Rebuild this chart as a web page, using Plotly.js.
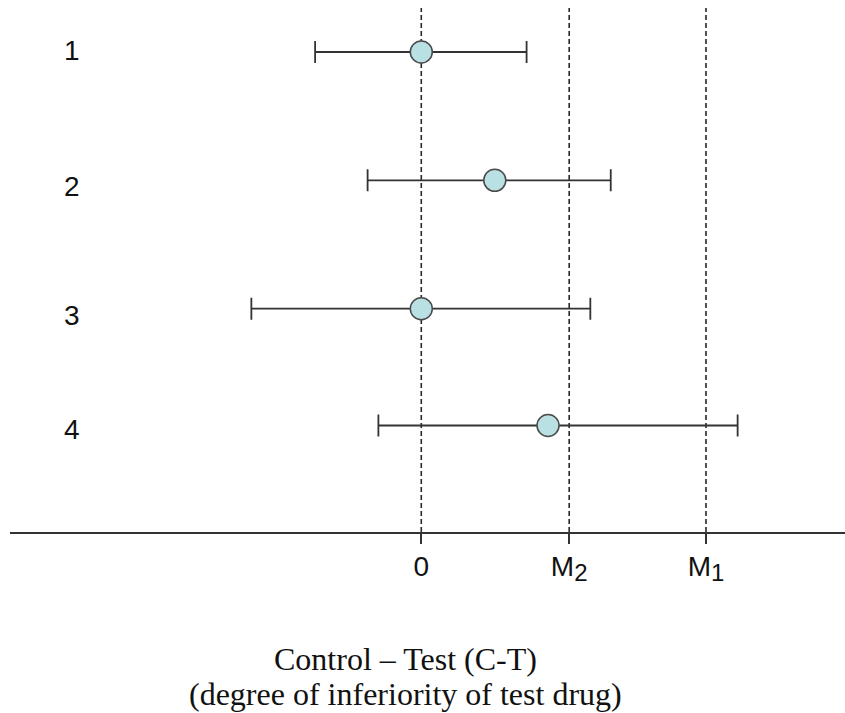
<!DOCTYPE html>
<html>
<head>
<meta charset="utf-8">
<script src="https://cdn.plot.ly/plotly-3.0.1.min.js"></script>
<style>html,body{margin:0;padding:0;background:#fff;}#chart{width:845px;height:713px;}</style>
</head>
<body>
<div id="chart"></div>
<script>
// Data (x in units where 0 = no difference, M2 = 1)
var rowLabels = ["1", "2", "3", "4"];
var rowY = [3.74, 2.74, 1.74, 0.83];
var labelY = [3.75, 2.69, 1.69, 0.795];
var estimate = [0, 0.497, 0, 0.857];
var lower = [-0.718, -0.363, -1.149, -0.290];
var upper = [0.712, 1.281, 1.143, 2.139];
var refNames = ["0", "M<sub><span style=\"font-size:24px\">2</span></sub>", "M<sub><span style=\"font-size:24px\">1</span></sub>"];
var refValues = [0, 1, 1.925];
var titleLines = ["Control – Test (C-T)", "(degree of inferiority of test drug)"];

var errPlus = upper.map(function (u, i) { return u - estimate[i]; });
var errMinus = lower.map(function (l, i) { return estimate[i] - l; });

var trace = {
  type: "scatter",
  mode: "markers",
  x: estimate,
  y: rowY,
  marker: { size: 22, color: "#b9e0e3", line: { color: "#4a4a4a", width: 1.5 } },
  error_x: { type: "data", symmetric: false, array: errPlus, arrayminus: errMinus,
             color: "#333333", thickness: 1.8, width: 11 },
  hoverinfo: "skip",
  showlegend: false
};

var shapes = refValues.map(function (v) {
  return { type: "line", xref: "x", yref: "paper", x0: v, x1: v, y0: 0, y1: 1,
           line: { color: "#2a2a2a", width: 1.6, dash: "5px,3px" }, layer: "below" };
});

var sansFont = { family: "Liberation Sans, Arial, sans-serif", size: 28, color: "#111" };
var serifFont = { family: "Liberation Serif, Times New Roman, serif", size: 32, color: "#111" };

var annotations = rowLabels.map(function (t, i) {
  return { x: -2.36, y: labelY[i], xref: "x", yref: "y", text: t, showarrow: false, font: sansFont };
});
var titleY = [-0.205, -0.271];
titleLines.forEach(function (t, i) {
  annotations.push({ x: -0.11, xref: "x", y: titleY[i], yref: "paper", yanchor: "top",
                     text: t, showarrow: false, font: serifFont });
});

var layout = {
  width: 845, height: 713,
  margin: { l: 10, r: 0, t: 8, b: 181, pad: 0 },
  paper_bgcolor: "#ffffff", plot_bgcolor: "#ffffff",
  xaxis: {
    range: [-2.781, 2.865], showgrid: false, zeroline: false,
    showline: true, linecolor: "#333333", linewidth: 2,
    ticks: "outside", ticklen: 10, tickwidth: 1.8, tickcolor: "#333333",
    tickmode: "array", tickvals: refValues, ticktext: refNames,
    tickfont: sansFont, ticklabelstandoff: -2, fixedrange: true
  },
  yaxis: { range: [0, 4.083], visible: false, showgrid: false, zeroline: false, fixedrange: true },
  shapes: shapes,
  annotations: annotations
};

Plotly.newPlot("chart", [trace], layout, { displayModeBar: false, staticPlot: true });
</script>
</body>
</html>
